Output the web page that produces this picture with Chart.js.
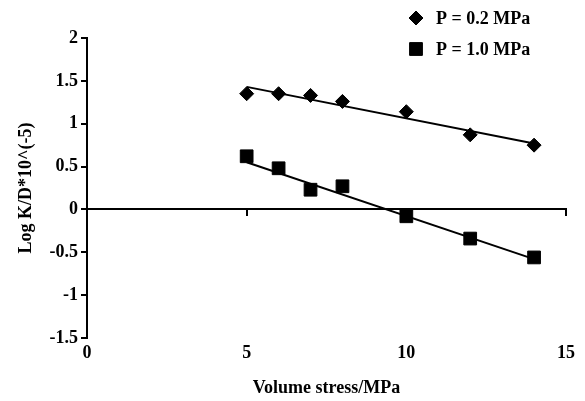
<!DOCTYPE html>
<html>
<head>
<meta charset="utf-8">
<script src="https://cdn.jsdelivr.net/npm/chart.js@4/dist/chart.umd.min.js"></script>
<style>
  html, body { margin: 0; padding: 0; background: #fff; }
  #wrap { width: 585px; height: 401px; }
</style>
</head>
<body>
<div id="wrap"><canvas id="chart"></canvas></div>
<script>
const stress = [5, 6, 7, 8, 10, 12, 14];
const logKD_02 = [1.35, 1.35, 1.33, 1.26, 1.14, 0.87, 0.75];
const logKD_10 = [0.62, 0.48, 0.23, 0.27, -0.08, -0.34, -0.56];
const fitX = [5, 14];
const fit_02 = [1.43, 0.77];
const fit_10 = [0.55, -0.58];
const xTicks = [0, 5, 10, 15];
const seriesNames = ['P = 0.2 MPa', 'P = 1.0 MPa'];

const serif = "'Liberation Serif', 'Times New Roman', serif";

function pts(xs, ys) {
  return xs.map((x, i) => ({ x: x, y: ys[i] }));
}

// legend drawn by hand: stacked top right, overlapping the plot area
const stackedLegend = {
  id: 'stackedLegend',
  afterDraw(chart) {
    const ctx = chart.ctx;
    const rows = [{ ds: 0, y: 18 }, { ds: 1, y: 49 }];
    ctx.save();
    rows.forEach(r => {
      const ds = chart.data.datasets[r.ds];
      Chart.helpers.drawPoint(ctx, {
        pointStyle: ds.pointStyle,
        radius: ds.pointRadius,
        rotation: 0,
        borderWidth: 1
      }, 416, r.y);
      ctx.fillStyle = '#000';
      ctx.fill();
      ctx.font = 'bold 18px ' + serif;
      ctx.textBaseline = 'middle';
      ctx.textAlign = 'left';
      ctx.fillText(ds.label, 436, r.y + 1);
    });
    ctx.restore();
  }
};

new Chart(document.getElementById('chart'), {
  type: 'scatter',
  data: {
    datasets: [
      {
        label: seriesNames[0],
        data: pts(stress, logKD_02),
        pointStyle: 'rectRot',
        pointRadius: 7,
        backgroundColor: '#000',
        borderColor: '#000',
        borderWidth: 1
      },
      {
        label: seriesNames[1],
        data: pts(stress, logKD_10),
        pointStyle: 'rect',
        pointRadius: 9,
        backgroundColor: '#000',
        borderColor: '#000',
        borderWidth: 1
      },
      {
        type: 'line',
        label: 'fit 0.2',
        data: pts(fitX, fit_02),
        borderColor: '#000',
        borderWidth: 2,
        pointRadius: 0
      },
      {
        type: 'line',
        label: 'fit 1.0',
        data: pts(fitX, fit_10),
        borderColor: '#000',
        borderWidth: 2,
        pointRadius: 0
      }
    ]
  },
  options: {
    responsive: true,
    maintainAspectRatio: false,
    animation: false,
    layout: { padding: { top: 38, right: 19, left: 0, bottom: 0 } },
    plugins: {
      legend: { display: false },
      tooltip: { enabled: false }
    },
    scales: {
      x: {
        type: 'linear',
        position: 'bottom',
        min: 0,
        max: 15,
        afterBuildTicks: s => { s.ticks = xTicks.map(v => ({ value: v })); },
        afterFit: s => { s.height = 63; },
        grid: { display: false, drawTicks: false },
        border: { display: false },
        ticks: {
          color: '#000',
          padding: 5,
          font: { family: serif, size: 18, weight: 'bold' }
        },
        title: {
          display: true,
          text: 'Volume stress/MPa',
          color: '#000',
          padding: { top: 0, bottom: 2 },
          font: { family: serif, size: 18, weight: 'bold' }
        }
      },
      x2: {
        type: 'linear',
        position: { y: 0 },
        min: 0,
        max: 15,
        afterBuildTicks: s => { s.ticks = xTicks.map(v => ({ value: v })); },
        grid: { drawOnChartArea: false, color: '#000', lineWidth: 2, tickLength: 6 },
        border: { display: true, color: '#000', width: 2 },
        ticks: { display: false }
      },
      y: {
        type: 'linear',
        position: 'left',
        min: -1.5,
        max: 2,
        afterFit: s => { s.width = 87; },
        grid: { drawOnChartArea: false, color: '#000', lineWidth: 2, tickLength: 6 },
        border: { display: true, color: '#000', width: 2 },
        ticks: {
          stepSize: 0.5,
          color: '#000',
          padding: 3,
          callback: v => String(v),
          font: { family: serif, size: 18, weight: 'bold' }
        },
        title: {
          display: true,
          text: 'Log K/D*10^(-5)',
          color: '#000',
          padding: { top: 16, bottom: 0 },
          font: { family: serif, size: 18, weight: 'bold' }
        }
      }
    }
  },
  plugins: [stackedLegend]
});
</script>
</body>
</html>
